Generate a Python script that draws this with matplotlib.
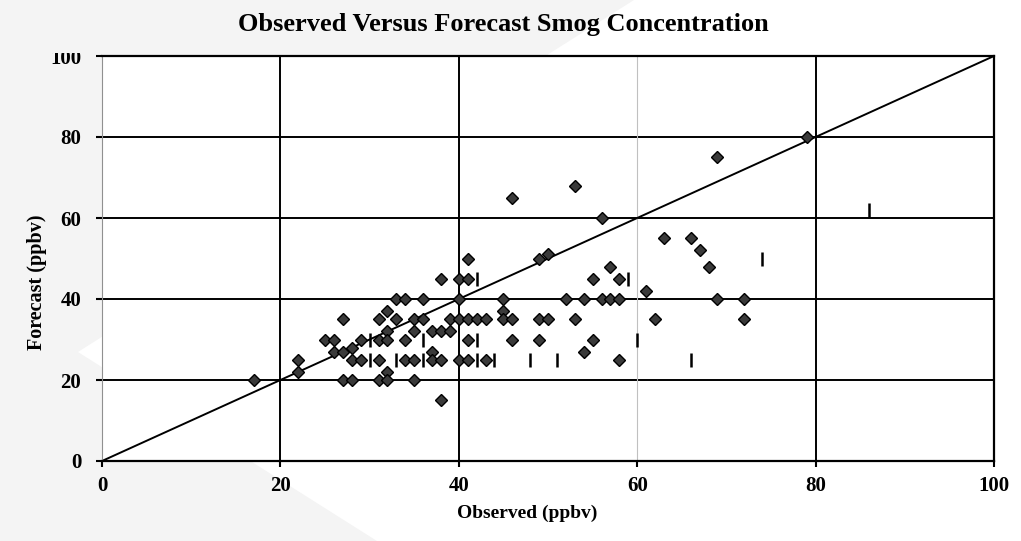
import matplotlib
matplotlib.use("Agg")
import matplotlib.pyplot as plt
from matplotlib.patches import Polygon
from matplotlib.transforms import Bbox, TransformedBbox

# ---- data ----
obs_main = [17, 22, 22, 25, 26, 26, 27, 27, 27, 28, 28, 28, 29, 29,
            31, 31, 31, 31, 32, 32, 32, 32, 32, 33, 33, 34, 34, 34,
            35, 35, 35, 35, 36, 36, 37, 37, 37, 38, 38, 38, 38, 39, 39,
            40, 40, 40, 40, 41, 41, 41, 41, 41, 42, 43, 43, 45, 45, 45,
            46, 46, 46, 49, 49, 49, 50, 50, 52, 53, 53, 54, 54, 55, 55,
            56, 56, 57, 57, 58, 58, 58, 61, 62, 63, 66, 67, 68, 69, 69,
            72, 72, 79]
fc_main = [20, 25, 22, 30, 30, 27, 35, 27, 20, 28, 25, 20, 30, 25,
           35, 30, 25, 20, 37, 32, 30, 22, 20, 40, 35, 40, 30, 25,
           35, 32, 25, 20, 40, 35, 32, 27, 25, 45, 32, 25, 15, 35, 32,
           45, 40, 35, 25, 50, 45, 35, 30, 25, 35, 35, 25, 40, 37, 35,
           65, 35, 30, 50, 35, 30, 51, 35, 40, 68, 35, 40, 27, 45, 30,
           60, 40, 48, 40, 45, 40, 25, 42, 35, 55, 55, 52, 48, 75, 40,
           40, 35, 80]

obs_other = [30, 30, 33, 36, 36, 42, 42, 42, 44, 48, 51, 59, 60, 66, 74, 86]
fc_other = [30, 25, 25, 30, 25, 45, 30, 25, 25, 25, 25, 45, 30, 25, 50, 62]

perfect = [0, 100]
ticks = [0, 20, 40, 60, 80, 100]

title = "Observed Versus Forecast Smog Concentration"
xlabel = "Observed (ppbv)"
ylabel = "Forecast (ppbv)"

# ---- figure ----
W, H = 1021, 541
fig = plt.figure(figsize=(W / 100, H / 100), dpi=100)
fig.patch.set_facecolor("white")

# faint background shape (behind everything)
pts = [(0, 0), (634, 0), (78, 352), (377, 541), (0, 541)]
bg = Polygon([(x / W, 1 - y / H) for x, y in pts], closed=True,
             transform=fig.transFigure, facecolor="#f4f4f4",
             edgecolor="none", zorder=-10)
fig.patches.append(bg)

ax = fig.add_axes([102 / W, 1 - 461 / H, (994 - 102) / W, (461 - 56) / H])
ax.set_zorder(1)
ax.set_facecolor("white")
ax.set_xlim(0, 100)
ax.set_ylim(0, 100)

font = "Liberation Serif"

# grid
for v in [20, 40, 60, 80]:
    ax.axhline(v, color="black", lw=1.4, zorder=1)
for v in [20, 40, 80]:
    ax.axvline(v, color="black", lw=1.4, zorder=1)
ax.axvline(60, color="#c0c0c0", lw=0.8, zorder=1)

ax.plot(perfect, perfect, color="black", lw=1.4, zorder=2)

ax.plot(obs_main, fc_main, linestyle="none", marker="D", markersize=6.5,
        markerfacecolor="#3a3a3a", markeredgecolor="black",
        markeredgewidth=1.0, zorder=3)
ax.plot(obs_other, fc_other, linestyle="none", marker="|", markersize=10,
        markeredgewidth=1.8, color="black", zorder=3)

for s in ["top", "right", "bottom"]:
    ax.spines[s].set_color("black")
    ax.spines[s].set_linewidth(1.6)
ax.spines["left"].set_color("#909090")
ax.spines["left"].set_linewidth(0.8)

ax.set_xticks(ticks)
ax.set_yticks(ticks)
ax.tick_params(axis="both", direction="out", length=4, width=1.5,
               color="black")
ax.tick_params(axis="y", pad=11)
ax.tick_params(axis="x", pad=7)
for lab in ax.get_xticklabels() + ax.get_yticklabels():
    lab.set_fontfamily(font)
    lab.set_fontweight("bold")
    lab.set_fontsize(15)

# clip top y tick label like the reference
top_lab = ax.yaxis.get_major_ticks()[-1].label1
top_lab.set_clip_box(TransformedBbox(Bbox([[0, 0], [1, 1 - 53 / H]]),
                                     fig.transFigure))
top_lab.set_clip_on(True)

fig.text(503 / W, 1 - 25 / H, title, ha="center", va="center",
         fontfamily=font, fontweight="bold", fontsize=19)
fig.text(527 / W, 1 - 513 / H, xlabel, ha="center", va="center",
         fontfamily=font, fontweight="bold", fontsize=14)
fig.text(37 / W, 1 - 282 / H, ylabel, ha="center", va="center",
         rotation=90, fontfamily=font, fontweight="bold", fontsize=14.5)

fig.savefig("out.png", dpi=100, facecolor=fig.get_facecolor())
